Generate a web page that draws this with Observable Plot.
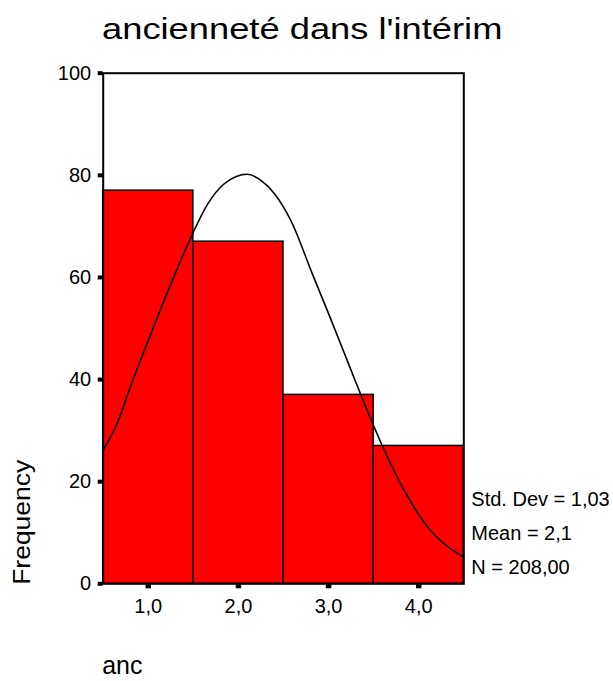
<!DOCTYPE html>
<html>
<head>
<meta charset="utf-8">
<script src="https://cdn.jsdelivr.net/npm/d3@7"></script>
<script src="https://cdn.jsdelivr.net/npm/@observablehq/plot@0.6"></script>
<style>
  html, body { margin: 0; padding: 0; background: white; }
</style>
</head>
<body>
<div id="chart"></div>
<script>
// ---- data ----
const categories = [1, 2, 3, 4];
const frequencies = [77, 67, 37, 27];
const xTickLabels = ["1,0", "2,0", "3,0", "4,0"];
const yTicks = [0, 20, 40, 60, 80, 100];
// normal curve, points
const curveX = [0.5, 0.66, 0.8, 0.97, 1.16, 1.36, 1.49, 1.66, 1.84, 2.1, 2.25, 2.4, 2.58, 2.82, 3.03, 3.25, 3.43, 3.62, 3.84, 4.1, 4.5];
const curveY = [26.2, 31.6, 38.5, 46.3, 54.8, 63.3, 68.5, 74.4, 78.3, 80.2, 79.0, 76.4, 71.2, 60.7, 51.6, 41.8, 33.9, 26.1, 18.3, 11.1, 5.2];
const title = "ancienneté dans l'intérim";
const yLabel = "Frequency";
const xLabel = "anc";
const statLabels = ["Std. Dev = 1,03", "Mean = 2,1", "N = 208,00"];

const bars = categories.map((c, i) => ({cat: c, freq: frequencies[i]}));
const curve = curveX.map((x, i) => ({x, y: curveY[i]}));

const font = "'Liberation Sans', Arial, Helvetica, sans-serif";
const statDy = [-78.3, -44, -10];

const chart = Plot.plot({
  width: 613,
  height: 681,
  marginLeft: 102.7,
  marginRight: 149.7,
  marginTop: 72.7,
  marginBottom: 97.7,
  style: {fontFamily: font, background: "white", color: "black"},
  x: {domain: [0.5, 4.5]},
  y: {domain: [0, 100]},
  marks: [
    Plot.rectY(bars, {x1: d => d.cat - 0.5, x2: d => d.cat + 0.5, y: "freq", fill: "#ff0000", stroke: "black", strokeWidth: 1.5, inset: 0}),
    Plot.line(curve, {x: "x", y: "y", curve: "monotone-x", stroke: "black", strokeWidth: 1.6}),
    Plot.frame({stroke: "black", strokeWidth: 2}),
    Plot.axisY(yTicks, {tickSize: 5, strokeWidth: 4, tickPadding: 7, fontSize: 20, label: null}),
    Plot.axisX(categories, {tickSize: 5, strokeWidth: 5.5, tickPadding: 10, fontSize: 20, label: null, tickFormat: (d, i) => xTickLabels[i]}),
    Plot.text([title], {frameAnchor: "top", lineAnchor: "bottom", dx: 18.7, dy: -34.4, fontSize: 30, fill: "black"}),
    Plot.text([yLabel], {frameAnchor: "bottom-left", rotate: -90, textAnchor: "start", lineAnchor: "bottom", dx: -73.4, dy: 1, fontSize: 23, fill: "black"}),
    Plot.text([xLabel], {frameAnchor: "bottom-left", textAnchor: "start", lineAnchor: "bottom", dx: -1, dy: 90, fontSize: 25, fill: "black"}),
    ...statLabels.map((t, i) => Plot.text([t], {frameAnchor: "bottom-right", textAnchor: "start", lineAnchor: "bottom", dx: 7.5, dy: statDy[i], fontSize: 20, fill: "black"}))
  ]
});

document.getElementById("chart").appendChild(chart);

// horizontal stretch of the wide-set SPSS lettering
const stretch = {[title]: 1.21, [yLabel]: 1.15};
chart.querySelectorAll("text").forEach(t => {
  const f = stretch[t.textContent];
  if (f) {
    const len = t.getComputedTextLength();
    t.setAttribute("textLength", (len * f).toFixed(1));
    t.setAttribute("lengthAdjust", "spacingAndGlyphs");
  }
});
</script>
</body>
</html>
